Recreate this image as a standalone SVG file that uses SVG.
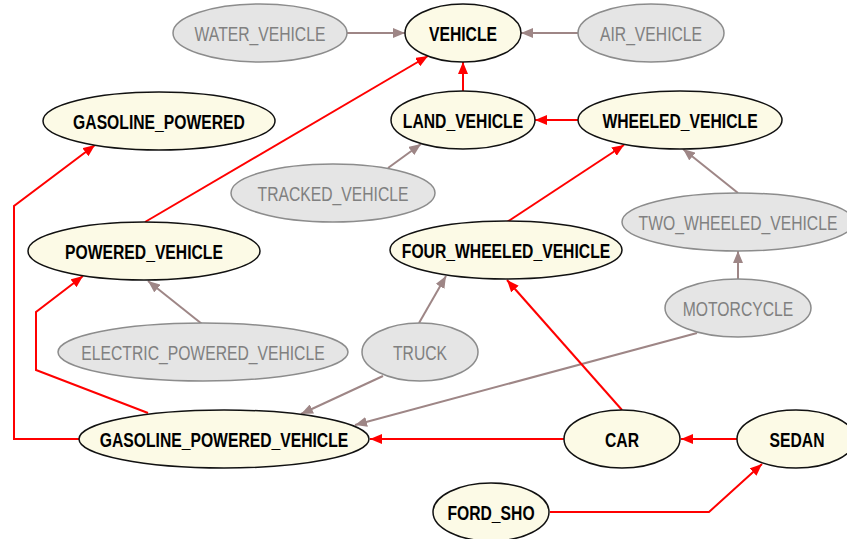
<svg xmlns="http://www.w3.org/2000/svg" width="847" height="539" viewBox="0 0 847 539">
<style>
.n ellipse{fill:#fcfae6;stroke:#111;stroke-width:1.5}
.g ellipse{fill:#e5e5e5;stroke:#8c8c8c;stroke-width:1.5}
text{font-family:"Liberation Sans",Arial,sans-serif;font-size:20px;text-anchor:middle}
.n text{font-weight:bold;fill:#000}
.g text{fill:#808080}
.r{fill:none;stroke:#ff0000;stroke-width:2;marker-end:url(#ar)}
.b{fill:none;stroke:#9e8686;stroke-width:2;marker-end:url(#ab)}
</style>
<defs>
<marker id="ar" viewBox="0 0 12 10" refX="12" refY="5" markerWidth="12" markerHeight="10" markerUnits="userSpaceOnUse" orient="auto"><path d="M0,0 L12,5 L0,10 z" fill="#ff0000"/></marker>
<marker id="ab" viewBox="0 0 12 10" refX="12" refY="5" markerWidth="12" markerHeight="10" markerUnits="userSpaceOnUse" orient="auto"><path d="M0,0 L12,5 L0,10 z" fill="#9e8686"/></marker>
</defs>
<rect width="847" height="539" fill="#fff"/>
<g id="edges">
<path class="b" d="M347,33 L405,33"/>
<path class="b" d="M578,33 L521,33"/>
<path class="r" d="M463,91 L463,62"/>
<path class="r" d="M578,120 L535,120"/>
<path class="r" d="M145,222 L428,56"/>
<path class="b" d="M388,168 L421,144"/>
<path class="r" d="M507,222 L624,145"/>
<path class="b" d="M738,193 L683,149"/>
<path class="b" d="M738,279 L738,251"/>
<path class="b" d="M202,324 L148,281"/>
<path class="b" d="M419,323 L446,276"/>
<path class="b" d="M383,376 L301,414"/>
<path class="b" d="M697,333 L355,425"/>
<path class="r" d="M564,439 L370,439"/>
<path class="r" d="M622,410 L507,280"/>
<path class="r" d="M737,439 L681,439"/>
<path class="r" d="M550,512 L709,512 L762,464"/>
<path class="r" d="M79,439 L14,439 L14,206 L95,145"/>
<path class="r" d="M148,413 L36,370 L36,312 L83,276"/>
</g>
<g id="WATER_VEHICLE" class="g"><ellipse cx="260" cy="33" rx="87" ry="29"/><text transform="translate(260,40.5) scale(0.785,1)">WATER_VEHICLE</text></g>
<g id="VEHICLE" class="n"><ellipse cx="463" cy="33" rx="58" ry="29"/><text transform="translate(463,40.5) scale(0.785,1)">VEHICLE</text></g>
<g id="AIR_VEHICLE" class="g"><ellipse cx="651" cy="33" rx="73" ry="29"/><text transform="translate(651,40.5) scale(0.785,1)">AIR_VEHICLE</text></g>
<g id="GASOLINE_POWERED" class="n"><ellipse cx="159" cy="121" rx="116" ry="29"/><text transform="translate(159,128.5) scale(0.785,1)">GASOLINE_POWERED</text></g>
<g id="LAND_VEHICLE" class="n"><ellipse cx="463" cy="120" rx="72" ry="29"/><text transform="translate(463,127.5) scale(0.785,1)">LAND_VEHICLE</text></g>
<g id="WHEELED_VEHICLE" class="n"><ellipse cx="680" cy="120" rx="102" ry="29"/><text transform="translate(680,127.5) scale(0.785,1)">WHEELED_VEHICLE</text></g>
<g id="TRACKED_VEHICLE" class="g"><ellipse cx="333" cy="193" rx="102" ry="29"/><text transform="translate(333,200.5) scale(0.785,1)">TRACKED_VEHICLE</text></g>
<g id="POWERED_VEHICLE" class="n"><ellipse cx="144" cy="251" rx="116" ry="29"/><text transform="translate(144,258.5) scale(0.785,1)">POWERED_VEHICLE</text></g>
<g id="FOUR_WHEELED_VEHICLE" class="n"><ellipse cx="506" cy="250" rx="116" ry="29"/><text transform="translate(506,257.5) scale(0.785,1)">FOUR_WHEELED_VEHICLE</text></g>
<g id="TWO_WHEELED_VEHICLE" class="g"><ellipse cx="738" cy="222" rx="116" ry="29"/><text transform="translate(738,229.5) scale(0.785,1)">TWO_WHEELED_VEHICLE</text></g>
<g id="MOTORCYCLE" class="g"><ellipse cx="738" cy="308" rx="73" ry="29"/><text transform="translate(738,315.5) scale(0.785,1)">MOTORCYCLE</text></g>
<g id="ELECTRIC_POWERED_VEHICLE" class="g"><ellipse cx="203" cy="352" rx="145" ry="29"/><text transform="translate(203,359.5) scale(0.785,1)">ELECTRIC_POWERED_VEHICLE</text></g>
<g id="TRUCK" class="g"><ellipse cx="420" cy="352" rx="58" ry="29"/><text transform="translate(420,359.5) scale(0.785,1)">TRUCK</text></g>
<g id="GASOLINE_POWERED_VEHICLE" class="n"><ellipse cx="224" cy="439" rx="145" ry="29"/><text transform="translate(224,446.5) scale(0.785,1)">GASOLINE_POWERED_VEHICLE</text></g>
<g id="CAR" class="n"><ellipse cx="622" cy="439" rx="58" ry="29"/><text transform="translate(622,446.5) scale(0.785,1)">CAR</text></g>
<g id="SEDAN" class="n"><ellipse cx="796" cy="439" rx="59" ry="29"/><text transform="translate(797,446.5) scale(0.785,1)">SEDAN</text></g>
<g id="FORD_SHO" class="n"><ellipse cx="491" cy="512" rx="58" ry="29"/><text transform="translate(491,519.5) scale(0.785,1)">FORD_SHO</text></g>
</svg>
